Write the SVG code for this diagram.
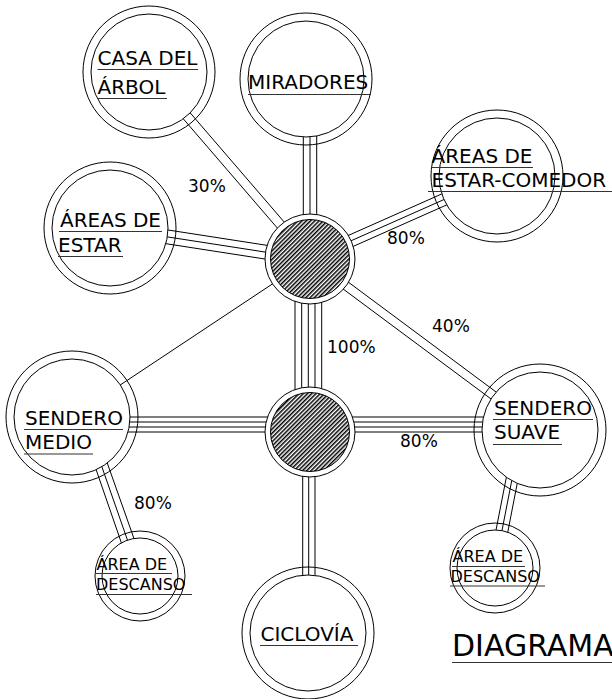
<svg xmlns="http://www.w3.org/2000/svg" width="612" height="699" viewBox="0 0 612 699">
<style>
.o{fill:none;stroke:#000;stroke-width:1}
.i{fill:#fff;stroke:#000;stroke-width:1}
.h{fill:#fff;stroke:#000;stroke-width:1}
.x{fill:url(#hatch);stroke:#000;stroke-width:1}
.c line{stroke:#000;stroke-width:1}
text{font-family:"DejaVu Sans","Verdana",sans-serif;fill:#000}
.t{font-size:20px}
.s{font-size:16px}
.p{font-size:17px}
.u{stroke:#333;stroke-width:1}
</style>
<defs>
<pattern id="hatch" patternUnits="userSpaceOnUse" width="3" height="3" patternTransform="rotate(45)">
<rect width="3" height="3" fill="#fff"/>
<line x1="0.75" y1="0" x2="0.75" y2="3" stroke="#000" stroke-width="1.5"/>
</pattern>
</defs>
<rect width="612" height="699" fill="#fff"/>
<g id="connectors" class="c">
<line x1="303.3" y1="79" x2="303.3" y2="259"/>
<line x1="310" y1="79" x2="310" y2="259"/>
<line x1="316.7" y1="79" x2="316.7" y2="259"/>
<line x1="295" y1="259" x2="295" y2="432"/>
<line x1="301.7" y1="259" x2="301.7" y2="432"/>
<line x1="308.3" y1="259" x2="308.3" y2="432"/>
<line x1="315" y1="259" x2="315" y2="432"/>
<line x1="321.7" y1="259" x2="321.7" y2="432"/>
<line x1="302.7" y1="432" x2="302.7" y2="633"/>
<line x1="308.7" y1="432" x2="308.7" y2="633"/>
<line x1="315" y1="432" x2="315" y2="633"/>
<line x1="72" y1="417" x2="310" y2="417"/>
<line x1="72" y1="422" x2="310" y2="422"/>
<line x1="72" y1="427" x2="310" y2="427"/>
<line x1="72" y1="432" x2="310" y2="432"/>
<line x1="310" y1="417" x2="540" y2="417"/>
<line x1="310" y1="422" x2="540" y2="422"/>
<line x1="310" y1="427" x2="540" y2="427"/>
<line x1="310" y1="432" x2="540" y2="432"/>
<line x1="152" y1="68.5" x2="313" y2="255.5"/>
<line x1="146" y1="75.5" x2="307" y2="262.5"/>
<line x1="494.6" y1="170.5" x2="307.6" y2="253.5"/>
<line x1="497" y1="176" x2="310" y2="259"/>
<line x1="499.4" y1="181.5" x2="312.4" y2="264.5"/>
<line x1="110" y1="221" x2="310" y2="252"/>
<line x1="110" y1="228" x2="310" y2="259"/>
<line x1="110" y1="235" x2="310" y2="266"/>
<line x1="72" y1="417" x2="310" y2="259"/>
<line x1="312.5" y1="255.5" x2="542.5" y2="426.5"/>
<line x1="307.5" y1="262.5" x2="537.5" y2="433.5"/>
<line x1="78" y1="417" x2="133.5" y2="578"/>
<line x1="84.5" y1="417" x2="140" y2="576"/>
<line x1="91" y1="417" x2="146.5" y2="574"/>
<line x1="515.6" y1="430" x2="488.6" y2="568"/>
<line x1="521.6" y1="430" x2="494.7" y2="568"/>
<line x1="527.6" y1="430" x2="500.8" y2="568"/>
</g>
<g id="hub1">
<circle class="h" cx="310" cy="259" r="45"/>
<circle class="x" cx="310" cy="259" r="39.5"/>
</g>
<g id="hub2">
<circle class="h" cx="310" cy="432" r="45"/>
<circle class="x" cx="310" cy="432" r="39.5"/>
</g>
<g id="casa-del-arbol">
<circle class="o" cx="149" cy="72" r="66"/>
<circle class="i" cx="149" cy="72" r="58"/>
<text class="t" x="97.5" y="65">CASA DEL</text>
<line class="u" x1="97.5" y1="69.5" x2="198" y2="69.5"/>
<text class="t" x="97.5" y="94">ÁRBOL</text>
<line class="u" x1="97.5" y1="98.5" x2="167" y2="98.5"/>
</g>
<g id="miradores">
<circle class="o" cx="306" cy="79" r="66"/>
<circle class="i" cx="306" cy="79" r="58"/>
<text class="t" x="248" y="89">MIRADORES</text>
<line class="u" x1="248" y1="94.5" x2="371" y2="94.5"/>
</g>
<g id="areas-estar-comedor">
<circle class="o" cx="497" cy="176" r="66"/>
<circle class="i" cx="497" cy="176" r="58"/>
<text class="t" x="431.5" y="162.5">ÁREAS DE</text>
<line class="u" x1="431.5" y1="167.5" x2="533" y2="167.5"/>
<text class="t" x="431.5" y="186.5">ESTAR-COMEDOR</text>
<line class="u" x1="428" y1="191.5" x2="612" y2="191.5"/>
</g>
<g id="areas-estar">
<circle class="o" cx="110" cy="228" r="66"/>
<circle class="i" cx="110" cy="228" r="58"/>
<text class="t" x="60" y="227">ÁREAS DE</text>
<line class="u" x1="59" y1="231.5" x2="162" y2="231.5"/>
<text class="t" x="58" y="251.5">ESTAR</text>
<line class="u" x1="58" y1="256.5" x2="123" y2="256.5"/>
</g>
<g id="sendero-medio">
<circle class="o" cx="72" cy="417" r="66"/>
<circle class="i" cx="72" cy="417" r="58"/>
<text class="t" x="25" y="425">SENDERO</text>
<line class="u" x1="24" y1="429.5" x2="123" y2="429.5"/>
<text class="t" x="25" y="449">MEDIO</text>
<line class="u" x1="24" y1="454" x2="93" y2="454"/>
</g>
<g id="sendero-suave">
<circle class="o" cx="540" cy="430" r="66"/>
<circle class="i" cx="540" cy="430" r="58"/>
<text class="t" x="494" y="415">SENDERO</text>
<line class="u" x1="493" y1="419.5" x2="593" y2="419.5"/>
<text class="t" x="494" y="439">SUAVE</text>
<line class="u" x1="493" y1="444.5" x2="562" y2="444.5"/>
</g>
<g id="ciclovia">
<circle class="o" cx="308" cy="633" r="66"/>
<circle class="i" cx="308" cy="633" r="58"/>
<text class="t" x="260.5" y="641">CICLOVÍA</text>
<line class="u" x1="260" y1="645.5" x2="358" y2="645.5"/>
</g>
<g id="descanso-medio">
<circle class="o" cx="140" cy="576" r="45"/>
<circle class="i" cx="140" cy="576" r="38"/>
<text class="s" x="96.5" y="570">ÁREA DE</text>
<line class="u" x1="96" y1="573.5" x2="172" y2="573.5"/>
<text class="s" x="96" y="590">DESCANSO</text>
<line class="u" x1="96" y1="594.5" x2="192" y2="594.5"/>
</g>
<g id="descanso-suave">
<circle class="o" cx="495" cy="568" r="45"/>
<circle class="i" cx="495" cy="568" r="38"/>
<text class="s" x="452.5" y="561.5">ÁREA DE</text>
<line class="u" x1="452" y1="566.5" x2="525" y2="566.5"/>
<text class="s" x="450.5" y="581.5">DESCANSO</text>
<line class="u" x1="450" y1="586" x2="545" y2="586"/>
</g>
<g id="labels">
<text class="p" x="188" y="192">30%</text>
<text class="p" x="387" y="244">80%</text>
<text class="p" x="432" y="332">40%</text>
<text class="p" x="327" y="353">100%</text>
<text class="p" x="400" y="447">80%</text>
<text class="p" x="134" y="509">80%</text>
</g>
<g id="title">
<text x="452" y="656" font-size="30">DIAGRAMA</text>
<line class="u" x1="452" y1="662.5" x2="612" y2="662.5"/>
</g>
</svg>
